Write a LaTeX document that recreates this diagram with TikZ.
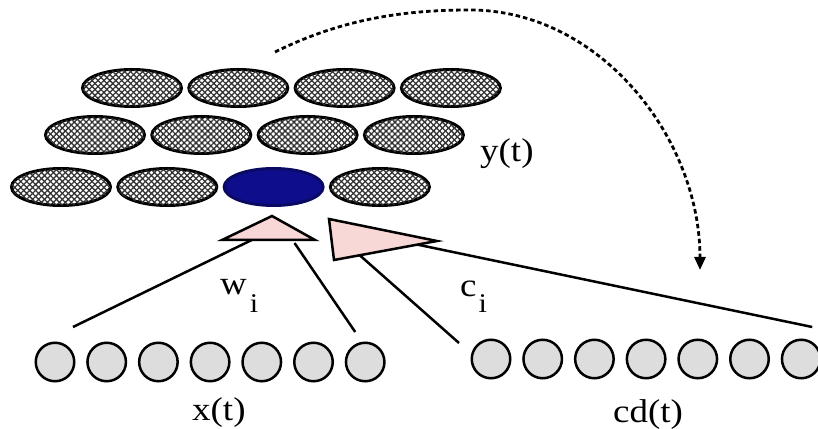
\documentclass[tikz,border=0pt]{standalone}
\usepackage{fontspec}
\setmainfont{Liberation Serif}
\newfontfamily\labelfont[FakeStretch=1.12]{Liberation Serif}
\usetikzlibrary{shapes,arrows,arrows.meta,calc,positioning,backgrounds,patterns.meta}

\definecolor{hiddenblue}{RGB}{14,14,140}
\definecolor{inputgray}{RGB}{221,221,221}
\definecolor{weightpink}{RGB}{248,216,214}

\tikzset{
  hidden/.style={ellipse, draw=black, line width=3pt, minimum width=99pt, minimum height=37pt,
    inner sep=0pt, outer sep=0pt, preaction={fill=white},
    pattern={Lines[angle=45,distance=4.2pt,line width=1.3pt]}, pattern color=black!80,
    postaction={pattern={Lines[angle=-45,distance=4.2pt,line width=1.3pt]}, pattern color=black!80}},
  active/.style={ellipse, draw=hiddenblue!70!black, fill=hiddenblue, line width=3pt, minimum width=99pt,
    minimum height=37pt, inner sep=0pt, outer sep=0pt},
  unit/.style={circle, draw=black, fill=inputgray, line width=2.5pt, minimum size=38.5pt, inner sep=0pt, outer sep=0pt},
  weights/.style={draw=black, fill=weightpink, line width=2.5pt, line join=miter},
  wire/.style={draw=black, line width=2.5pt},
  recur/.style={draw=black, line width=2.8pt, dash pattern=on 4.5pt off 3pt, -{Triangle[length=13pt,width=11pt]}},
  lab/.style={inner sep=0pt, anchor=base west, font=\labelfont\fontsize{33}{36}\selectfont}
}

\begin{document}
\begin{tikzpicture}[x=1pt, y=1pt]
  \useasboundingbox (0,0) rectangle (818,428);

  % hidden layer y(t)
  \node[hidden] (y11) at (132,340) {};
  \node[hidden, right=7.3pt of y11] (y12) {};
  \node[hidden, right=7.3pt of y12] (y13) {};
  \node[hidden, right=7.3pt of y13] (y14) {};

  \node[hidden] (y21) at (95,293) {};
  \node[hidden, right=7.3pt of y21] (y22) {};
  \node[hidden, right=7.3pt of y22] (y23) {};
  \node[hidden, right=7.3pt of y23] (y24) {};

  \node[hidden] (y31) at (61,241) {};
  \node[hidden, right=7.3pt of y31] (y32) {};
  \node[active, right=7.3pt of y32] (y33) {};
  \node[hidden, right=7.3pt of y33] (y34) {};

  \node[lab] (ylab) at (480,266) {y(t)};

  % input x(t)
  \node[unit] (x1) at (55,66) {};
  \node[unit, right=13.2pt of x1] (x2) {};
  \node[unit, right=13.2pt of x2] (x3) {};
  \node[unit, right=13.2pt of x3] (x4) {};
  \node[unit, right=13.2pt of x4] (x5) {};
  \node[unit, right=13.2pt of x5] (x6) {};
  \node[unit, right=13.2pt of x6] (x7) {};

  \node[lab] (xlab) at (192,8) {x(t)};

  % context cd(t)
  \node[unit] (cd1) at (491,69) {};
  \node[unit, right=13.2pt of cd1] (cd2) {};
  \node[unit, right=13.2pt of cd2] (cd3) {};
  \node[unit, right=13.2pt of cd3] (cd4) {};
  \node[unit, right=13.2pt of cd4] (cd5) {};
  \node[unit, right=13.2pt of cd5] (cd6) {};
  \node[unit, right=13.2pt of cd6] (cd7) {};

  \node[lab] (cdlab) at (613,6) {cd(t)};

  % weight triangles
  \coordinate (wtop) at (272,212);
  \coordinate (wleft) at (222,188);
  \coordinate (wright) at (315,188);
  \draw[weights] (wtop) -- (wleft) -- (wright) -- cycle;

  \coordinate (ctop) at (329,209);
  \coordinate (cleft) at (334,168);
  \coordinate (ctip) at (437,187);
  \draw[weights] (ctop) -- (cleft) -- (ctip) -- cycle;

  \node[lab] (wlab) at (220,133) {w\hspace{3pt}\raisebox{-18pt}{\fontsize{27}{27}\selectfont i}};
  \node[lab] (clab) at (460,131) {c\hspace{2pt}\raisebox{-16pt}{\fontsize{27}{27}\selectfont i}};

  % connections
  \coordinate (wa) at ($(wleft)!0.32!(wright)$);
  \coordinate (wb) at ($(wleft)!0.78!(wright)+(0,-3)$);
  \coordinate (ca) at ($(cleft)!0.25!(ctip)$);
  \coordinate (cb) at ($(cleft)!0.81!(ctip)$);
  \coordinate (xa) at ($(x1)+(18,35)$);
  \coordinate (xb) at ($(x7)+(-10,30)$);
  \coordinate (cda) at ($(cd1)+(-32,16)$);
  \coordinate (cdb) at ($(cd7)+(11,32)$);

  \draw[wire] (wa) -- (xa);
  \draw[wire] (wb) -- (xb);
  \draw[wire] (ca) -- (cda);
  \draw[wire] (cb) -- (cdb);

  % copy back
  \coordinate (d0) at (275,376);
  \coordinate (d1) at (470,418);
  \coordinate (d2) at (700,158);
  \draw[recur] (d0) .. controls (340,408) and (400,418) .. (d1) .. controls (600,418) and (700,290) .. (d2);

\end{tikzpicture}
\end{document}
